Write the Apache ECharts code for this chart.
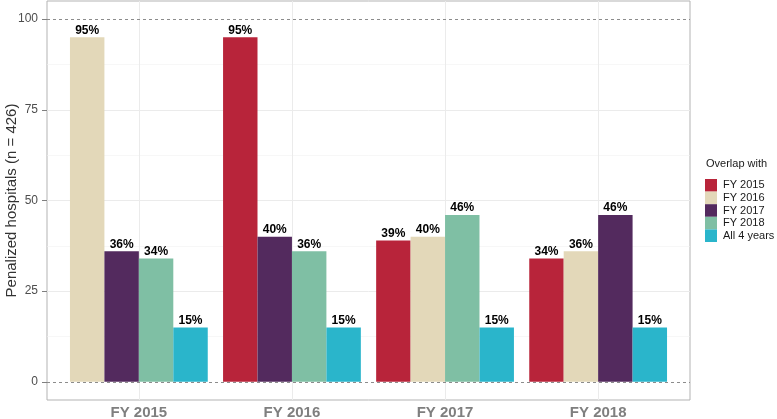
<!DOCTYPE html>
<html>
<head>
<meta charset="utf-8">
<script src="https://cdn.jsdelivr.net/npm/echarts@6/dist/echarts.min.js"></script>
<style>html,body{margin:0;padding:0;background:#fff}#c{width:777px;height:419px}</style>
</head>
<body>
<div id="c"></div>
<script>
// ---- data ----
const categories = ['FY 2015', 'FY 2016', 'FY 2017', 'FY 2018'];
const seriesNames = ['FY 2015', 'FY 2016', 'FY 2017', 'FY 2018', 'All 4 years'];
const overlapFY2015 = [null, 95, 39, 34];
const overlapFY2016 = [95, null, 40, 36];
const overlapFY2017 = [36, 40, null, 46];
const overlapFY2018 = [34, 36, 46, null];
const overlapAll4 = [15, 15, 15, 15];
const yTicks = [0, 25, 50, 75, 100];
const yMinorGrid = [12.5, 37.5, 62.5, 87.5];
const refLines = [0, 100];

// ---- style ----
const colors = ['#B8243A', '#E3D8B9', '#532A5E', '#7FBFA4', '#2AB5CB'];
const FONT = '"Liberation Sans", Arial, Helvetica, sans-serif';

const valuesBySeries = [overlapFY2015, overlapFY2016, overlapFY2017, overlapFY2018, overlapAll4];
const catIndex = categories.map((c, i) => i);

// Build 4 dodge slots per category (each category excludes itself)
const nSlots = 4;
const slots = [];
for (let s = 0; s < nSlots; s++) slots.push([]);
categories.forEach((cat, ci) => {
  let slot = 0;
  valuesBySeries.forEach((vals, si) => {
    const v = vals[ci];
    if (v !== null && v !== undefined) {
      slots[slot].push({ value: [ci, v], itemStyle: { color: colors[si] } });
      slot++;
    }
  });
});

const series = [];
// gridlines (behind bars)
series.push({
  type: 'line', data: [], z: 0, silent: true,
  markLine: {
    z: 0, silent: true, symbol: 'none', label: { show: false }, animation: false,
    data: [
      ...yTicks.filter(v => refLines.indexOf(v) < 0).map(v => ({ yAxis: v, lineStyle: { color: '#EBEBEB', width: 1, type: 'solid' } })),
      ...yMinorGrid.map(v => ({ yAxis: v, lineStyle: { color: '#F2F2F2', width: 0.6, type: 'solid' } })),
      ...catIndex.map(c => ({ xAxis: c, lineStyle: { color: '#EBEBEB', width: 1, type: 'solid' } }))
    ]
  }
});
slots.forEach((d, i) => {
  series.push({
    type: 'bar', name: 'slot' + i, data: d, barGap: '0%', barCategoryGap: '10%', z: 2,
    label: {
      show: true, position: 'top', distance: 1,
      formatter: p => p.value[1] + '%',
      fontFamily: FONT, fontWeight: 'bold', fontSize: 12, color: '#000'
    }
  });
});
// dashed reference lines above bars
series.push({
  type: 'line', data: [], z: 10, silent: true,
  markLine: {
    z: 10, silent: true, symbol: 'none', label: { show: false }, animation: false,
    data: refLines.map(v => ({ yAxis: v, lineStyle: { color: '#8C8C8C', width: 1, type: [3, 3] } }))
  }
});
// legend-only series on a hidden axis
seriesNames.forEach((n, i) => {
  series.push({ type: 'bar', name: n, data: [], xAxisIndex: 1, itemStyle: { color: colors[i] } });
});

const chart = echarts.init(document.getElementById('c'), null, { renderer: 'canvas' });
chart.setOption({
  animation: false,
  backgroundColor: '#fff',
  textStyle: { fontFamily: FONT },
  title: {
    text: 'Overlap with', left: 706, top: 158, padding: 0,
    textStyle: { fontFamily: FONT, fontSize: 11, fontWeight: 'normal', color: '#1A1A1A' }
  },
  legend: {
    data: seriesNames, orient: 'vertical', left: 705, top: 179, padding: 0,
    icon: 'rect', itemWidth: 12, itemHeight: 12.6, itemGap: 0,
    selectedMode: false,
    textStyle: { fontFamily: FONT, fontSize: 11, color: '#1A1A1A', lineHeight: 12.6, padding: [0, 0, 0, 1] }
  },
  grid: {
    left: 47, right: 87, top: 1, bottom: 19, containLabel: false, outerBoundsMode: 'none',
    show: true, borderColor: '#B3B3B3', borderWidth: 1, backgroundColor: 'transparent'
  },
  xAxis: [{
    type: 'value', min: -0.6, max: categories.length - 1 + 0.6,
    axisLine: { show: false, onZero: false }, axisTick: { show: false }, splitLine: { show: false },
    axisLabel: {
      customValues: catIndex, formatter: v => categories[Math.round(v)],
      margin: 5, fontFamily: FONT, fontSize: 15, fontWeight: 'bold', color: '#7F7F7F'
    }
  }, {
    type: 'category', data: categories, show: false
  }],
  yAxis: {
    type: 'value', min: -5, max: 105,
    name: 'Penalized hospitals (n = 426)', nameLocation: 'middle', nameGap: 28, nameMoveOverlap: false,
    nameTextStyle: { fontFamily: FONT, fontSize: 15, color: '#333333' },
    axisLine: { show: false, onZero: false },
    splitLine: { show: false },
    axisTick: { show: true, length: 5, customValues: yTicks, lineStyle: { color: '#7F7F7F' } },
    axisLabel: { customValues: yTicks, margin: 9, fontFamily: FONT, fontSize: 12, color: '#4D4D4D' }
  },
  series: series
});
</script>
</body>
</html>
